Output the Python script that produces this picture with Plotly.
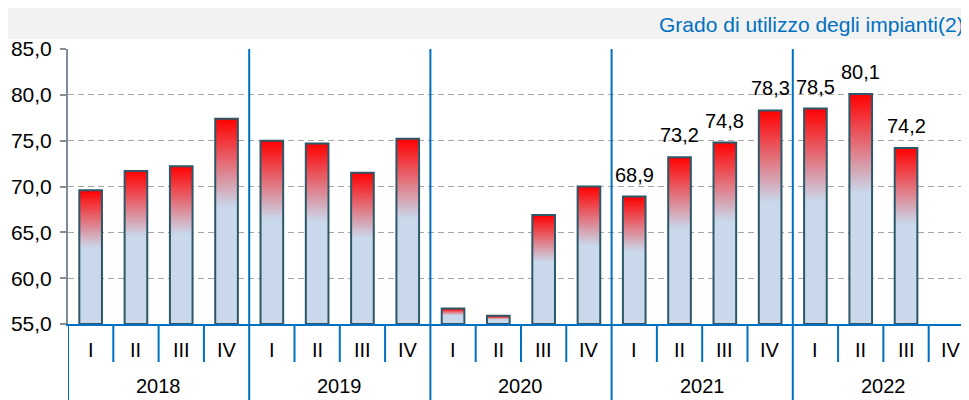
import plotly.graph_objects as go

# ---------------- dati ----------------
anni = ['2018', '2019', '2020', '2021', '2022']
trimestri = ['I', 'II', 'III', 'IV']
valori = [69.6, 71.7, 72.2, 77.4,
          75.0, 74.7, 71.5, 75.2,
          56.7, 55.9, 66.9, 70.0,
          68.9, 73.2, 74.8, 78.3,
          78.5, 80.1, 74.2, None]
etichette = ['', '', '', '',
             '', '', '', '',
             '', '', '', '',
             '68,9', '73,2', '74,8', '78,3',
             '78,5', '80,1', '74,2', '']
titolo = 'Grado di utilizzo degli impianti(2).'

BASE = 55
FONT = 'Arial, Liberation Sans, sans-serif'
blu = (201, 216, 235)
rosso = (255, 0, 0)
bordo = '#2D5869'
azzurro = '#0070C0'

# la pagina ha un margine di 8px: dimensioni ridotte di conseguenza
W, H = 961, 392
ML, MT, MB = 60, 41, 76
H_PX = H - MT - MB   # altezza area grafico
W_PX = W - ML        # larghezza area grafico


def mix(c1, c2, t):
    return 'rgb(%d,%d,%d)' % tuple(round(a + (b - a) * t) for a, b in zip(c1, c2))


x = [i for i, v in enumerate(valori) if v is not None]
h = [valori[i] - BASE for i in x]

fig = go.Figure()

# parte azzurra piena
fig.add_trace(go.Bar(x=x, y=h, base=BASE, width=0.5,
                     marker=dict(color=mix(blu, rosso, 0), line=dict(width=0)),
                     hoverinfo='skip', showlegend=False))

# sfumatura verso il rosso nella parte alta di ogni barra
N = 30
FRAZ = 0.57
for k in range(N):
    f0 = FRAZ + (1 - FRAZ) * k / N
    col = mix(blu, rosso, (k + 0.5) / N)
    fig.add_trace(go.Bar(x=x, y=[hh * (1 - f0) for hh in h],
                         base=[BASE + hh * f0 for hh in h], width=0.5,
                         marker=dict(color=col, line=dict(width=0)),
                         hoverinfo='skip', showlegend=False))

# bordo
fig.add_trace(go.Bar(x=x, y=h, base=BASE, width=0.5,
                     marker=dict(color='rgba(0,0,0,0)', line=dict(color=bordo, width=2)),
                     hoverinfo='skip', showlegend=False))

annotations = []
for i, t in enumerate(etichette):
    if t:
        annotations.append(dict(x=i, y=valori[i], xref='x', yref='y', text=t,
                                showarrow=False, yanchor='middle', yshift=22,
                                font=dict(family=FONT, size=20, color='black')))

# etichette trimestri e anni
for a, anno in enumerate(anni):
    for q, tr in enumerate(trimestri):
        annotations.append(dict(x=a * 4 + q, y=-26 / H_PX, xref='x', yref='paper', text=tr,
                                showarrow=False, yanchor='middle',
                                font=dict(family=FONT, size=20, color='black')))
    annotations.append(dict(x=a * 4 + 1.5, y=-62 / H_PX, xref='x', yref='paper', text=anno,
                            showarrow=False, yanchor='middle',
                            font=dict(family=FONT, size=20, color='black')))

annotations.append(dict(x=(649 - ML) / W_PX, y=(H - MB - 16) / H_PX, xref='paper', yref='paper',
                        text=titolo, showarrow=False, xanchor='left', yanchor='middle',
                        font=dict(family=FONT, size=21, color=azzurro)))

shapes = []
# fascia grigia del titolo
shapes.append(dict(type='rect', xref='paper', yref='paper',
                   x0=-ML / W_PX, x1=1.01, y0=(H - MB - 31) / H_PX, y1=(H - MB + 2) / H_PX,
                   fillcolor='#F2F2F2', line=dict(width=0), layer='below'))
bottom = -MB / H_PX
n = len(valori)
for i in range(n + 1):
    xb = i - 0.5
    if i % 4 == 0:
        y1 = 1 if i > 0 else 0
        shapes.append(dict(type='line', xref='x', yref='paper', x0=xb, x1=xb,
                           y0=bottom, y1=y1, line=dict(color=azzurro, width=2)))
    else:
        shapes.append(dict(type='line', xref='x', yref='paper', x0=xb, x1=xb,
                           y0=0, y1=-38 / H_PX, line=dict(color=azzurro, width=2)))

fig.update_layout(
    width=W, height=H,
    margin=dict(l=ML, r=0, t=MT, b=MB, pad=0),
    barmode='overlay',
    separators=',.',
    plot_bgcolor='white',
    paper_bgcolor='white',
    font=dict(family=FONT, size=20, color='black'),
    xaxis=dict(range=[-0.5, 19.39], showticklabels=False, ticks='', showgrid=False,
               zeroline=False, showline=True, linecolor=azzurro, linewidth=2),
    yaxis=dict(range=[55, 85], dtick=5, tick0=55, tickformat='.1f',
               ticks='outside', ticklen=6, tickcolor='#8C8C8C', tickwidth=1.5,
               ticklabelstandoff=4,
               showline=True, linecolor='#7F8C98', linewidth=2,
               showgrid=True, gridcolor='#A6A6A6', gridwidth=1.3, griddash='6px,4px',
               zeroline=False, tickfont=dict(family=FONT, size=21, color='black')),
    annotations=annotations,
    shapes=shapes,
)

fig.write_html("out.html")
